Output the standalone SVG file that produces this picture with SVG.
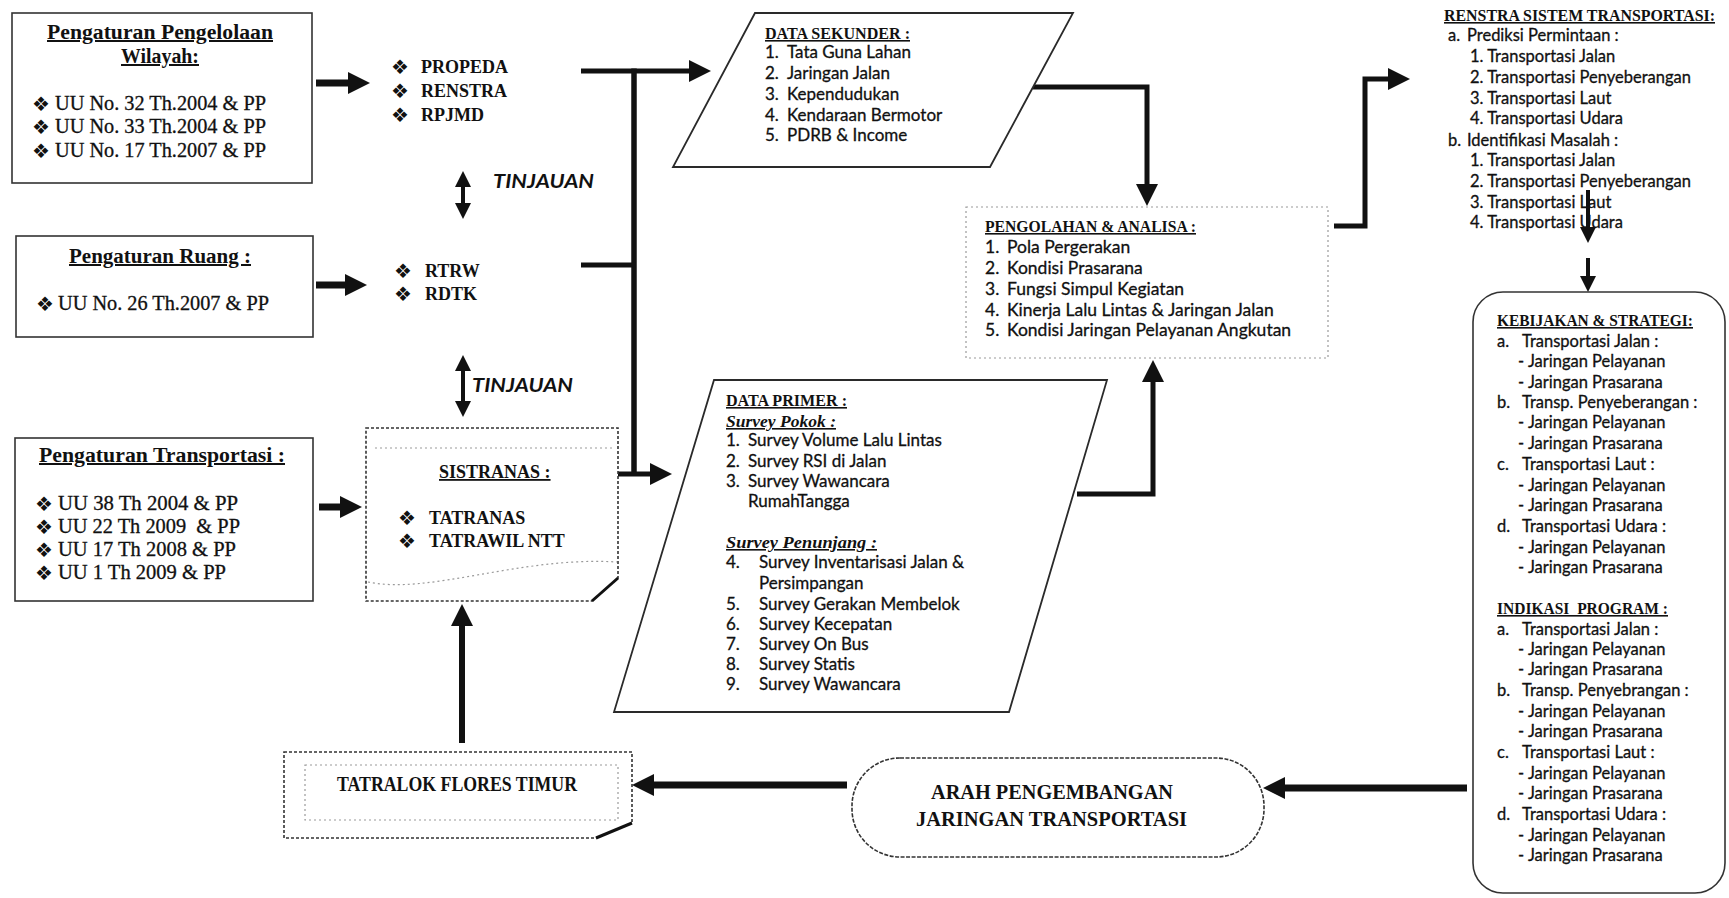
<svg xmlns="http://www.w3.org/2000/svg" width="1729" height="898" viewBox="0 0 1729 898">
<style>
.box{fill:#fff;stroke:#333;stroke-width:1.6}
.dk{fill:#fff;stroke:#2a2a2a;stroke-width:1.8}
.faint{fill:none;stroke:#9a9a9a;stroke-width:1.2;stroke-dasharray:2 3}
.hd{font-family:"Liberation Serif",serif;font-weight:bold;fill:#111}
.hi{font-family:"Liberation Serif",serif;font-weight:bold;font-style:italic;fill:#111}
.sr{font-family:"Liberation Serif",serif;fill:#111;stroke:#111;stroke-width:0.3}
.u{text-decoration:underline}
.bd{font-family:Lato,"Liberation Sans",sans-serif;fill:#111;stroke:#111;stroke-width:0.3}
.bul{font-family:"DejaVu Sans",sans-serif;font-size:20px;fill:#111}
.ti{font-family:Lato,"Liberation Sans",sans-serif;font-weight:bold;font-style:italic;font-size:19px;fill:#111}
.ln{fill:none;stroke:#111;stroke-linejoin:miter;stroke-linecap:butt}
.pre{white-space:pre}
</style>
<defs>
<marker id="ah" viewBox="0 0 22 22" refX="1" refY="11" markerWidth="22" markerHeight="22" markerUnits="userSpaceOnUse" orient="auto"><path d="M0,0 L22,11 L0,22 Z" fill="#111"/></marker>
<marker id="as" viewBox="0 0 16 16" refX="1" refY="8" markerWidth="16" markerHeight="16" markerUnits="userSpaceOnUse" orient="auto"><path d="M0,0 L16,8 L0,16 Z" fill="#111"/></marker>
<marker id="asr" viewBox="0 0 16 16" refX="15" refY="8" markerWidth="16" markerHeight="16" markerUnits="userSpaceOnUse" orient="auto"><path d="M16,0 L0,8 L16,16 Z" fill="#111"/></marker>
</defs>
<rect width="1729" height="898" fill="#fff"/>

<g id="connectors">
  <path class="ln" d="M316,83 H349" stroke-width="7" marker-end="url(#ah)"/>
  <path class="ln" d="M316,285 H346" stroke-width="7" marker-end="url(#ah)"/>
  <path class="ln" d="M319,507 H341" stroke-width="7" marker-end="url(#ah)"/>
  <path class="ln" d="M581,71 H690" stroke-width="5" marker-end="url(#ah)"/>
  <path class="ln" d="M634,68.5 V476" stroke-width="5.5"/>
  <path class="ln" d="M581,265 H636" stroke-width="5"/>
  <path class="ln" d="M577,474 H611" stroke-width="5"/>
  <path class="ln" d="M618,474 H651" stroke-width="5" marker-end="url(#ah)"/>
  <path class="ln" d="M1033,87 H1147 V185" stroke-width="5" marker-end="url(#ah)"/>
  <path class="ln" d="M1077,494 H1153 V381" stroke-width="5" marker-end="url(#ah)"/>
  <path class="ln" d="M1334,226 H1365 V79 H1389" stroke-width="5" marker-end="url(#ah)"/>
  <path class="ln" d="M1588,190 V228" stroke-width="4" marker-end="url(#as)"/>
  <path class="ln" d="M1588,258 V277" stroke-width="4" marker-end="url(#as)"/>
  <path class="ln" d="M1467,788 H1284" stroke-width="7" marker-end="url(#ah)"/>
  <path class="ln" d="M847,785 H653" stroke-width="7" marker-end="url(#ah)"/>
  <path class="ln" d="M462,743 V625" stroke-width="6" marker-end="url(#ah)"/>
  <path class="ln" d="M463,186 V204" stroke-width="4" marker-start="url(#asr)" marker-end="url(#as)"/>
  <path class="ln" d="M463,370 V402" stroke-width="4" marker-start="url(#asr)" marker-end="url(#as)"/>
  <text class="ti" x="493" y="188" textLength="101" lengthAdjust="spacingAndGlyphs">TINJAUAN</text>
  <text class="ti" x="472" y="392" textLength="101" lengthAdjust="spacingAndGlyphs">TINJAUAN</text>
</g>

<g id="pengelolaan-wilayah">
  <rect class="box" x="12" y="13" width="300" height="170"/>
  <text class="hd u" font-size="20" x="47" y="39" textLength="226" lengthAdjust="spacingAndGlyphs">Pengaturan Pengelolaan</text>
  <text class="hd u" font-size="20" x="121" y="63" textLength="78" lengthAdjust="spacingAndGlyphs">Wilayah:</text>
  <text class="bul" x="32" y="111">❖</text>
  <text class="bul" x="32" y="134">❖</text>
  <text class="bul" x="32" y="158">❖</text>
  <text class="sr" font-size="20" x="55" y="110" textLength="211" lengthAdjust="spacingAndGlyphs">UU No. 32 Th.2004 &amp; PP</text>
  <text class="sr" font-size="20" x="55" y="133" textLength="211" lengthAdjust="spacingAndGlyphs">UU No. 33 Th.2004 &amp; PP</text>
  <text class="sr" font-size="20" x="55" y="157" textLength="211" lengthAdjust="spacingAndGlyphs">UU No. 17 Th.2007 &amp; PP</text>
</g>

<g id="pengaturan-ruang">
  <rect class="box" x="16" y="236" width="297" height="101"/>
  <text class="hd u" font-size="20" x="69" y="263" textLength="182" lengthAdjust="spacingAndGlyphs">Pengaturan Ruang :</text>
  <text class="bul" x="36" y="311">❖</text>
  <text class="sr" font-size="20" x="58" y="310" textLength="211" lengthAdjust="spacingAndGlyphs">UU No. 26 Th.2007 &amp; PP</text>
</g>

<g id="pengaturan-transportasi">
  <rect class="box" x="15" y="438" width="298" height="163"/>
  <text class="hd u" font-size="20" x="39" y="462" textLength="246" lengthAdjust="spacingAndGlyphs">Pengaturan Transportasi :</text>
  <text class="bul" x="35" y="511">❖</text>
  <text class="bul" x="35" y="534">❖</text>
  <text class="bul" x="35" y="557">❖</text>
  <text class="bul" x="35" y="580">❖</text>
  <text class="sr" font-size="20" x="58" y="510" textLength="180" lengthAdjust="spacingAndGlyphs">UU 38 Th 2004 &amp; PP</text>
  <text class="sr pre" font-size="20" x="58" y="533" textLength="182" lengthAdjust="spacingAndGlyphs">UU 22 Th 2009  &amp; PP</text>
  <text class="sr" font-size="20" x="58" y="556" textLength="178" lengthAdjust="spacingAndGlyphs">UU 17 Th 2008 &amp; PP</text>
  <text class="sr" font-size="20" x="58" y="579" textLength="168" lengthAdjust="spacingAndGlyphs">UU 1 Th 2009 &amp; PP</text>
</g>

<g id="propeda">
  <text class="bul" x="391" y="74">❖</text>
  <text class="bul" x="391" y="98">❖</text>
  <text class="bul" x="391" y="122">❖</text>
  <text class="hd" font-size="18" x="421" y="73">PROPEDA</text>
  <text class="hd" font-size="18" x="421" y="97">RENSTRA</text>
  <text class="hd" font-size="18" x="421" y="121">RPJMD</text>
</g>

<g id="rtrw">
  <text class="bul" x="394" y="278">❖</text>
  <text class="bul" x="394" y="301">❖</text>
  <text class="hd" font-size="18" x="425" y="277">RTRW</text>
  <text class="hd" font-size="18" x="425" y="300">RDTK</text>
</g>

<g id="sistranas">
  <path class="box" d="M366,428 H618 V578 L592,601 H366 Z" stroke="#555" stroke-width="1.3" stroke-dasharray="3 2"/>
  <path class="faint" d="M375,448 H612"/>
  <path class="faint" d="M368,582 C430,595 520,556 617,562"/>
  <path class="ln" d="M592,601 L618,578" stroke-width="3"/>
  <text class="hd u" font-size="18" x="439" y="478">SISTRANAS :</text>
  <text class="bul" x="398" y="525">❖</text>
  <text class="bul" x="398" y="548">❖</text>
  <text class="hd" font-size="18" x="429" y="524">TATRANAS</text>
  <text class="hd" font-size="18" x="429" y="547">TATRAWIL NTT</text>
</g>

<g id="data-sekunder">
  <polygon class="dk" points="755,13 1073,13 990,167 673,167"/>
  <text class="hd u" font-size="16" x="765" y="39" textLength="145" lengthAdjust="spacingAndGlyphs">DATA SEKUNDER :</text>
  <text class="bd" font-size="17" y="58"><tspan x="765">1.</tspan><tspan x="787">Tata Guna Lahan</tspan></text>
  <text class="bd" font-size="17" y="79"><tspan x="765">2.</tspan><tspan x="787">Jaringan Jalan</tspan></text>
  <text class="bd" font-size="17" y="100"><tspan x="765">3.</tspan><tspan x="787">Kependudukan</tspan></text>
  <text class="bd" font-size="17" y="121"><tspan x="765">4.</tspan><tspan x="787">Kendaraan Bermotor</tspan></text>
  <text class="bd" font-size="17" y="141"><tspan x="765">5.</tspan><tspan x="787">PDRB &amp; Income</tspan></text>
</g>

<g id="pengolahan-analisa">
  <rect class="faint" x="966" y="207" width="362" height="151" fill="#fff"/>
  <text class="hd u" font-size="16" x="985" y="232" textLength="211" lengthAdjust="spacingAndGlyphs">PENGOLAHAN &amp; ANALISA :</text>
  <text class="bd" font-size="17.5" y="253"><tspan x="985">1.</tspan><tspan x="1007">Pola Pergerakan</tspan></text>
  <text class="bd" font-size="17.5" y="274"><tspan x="985">2.</tspan><tspan x="1007">Kondisi Prasarana</tspan></text>
  <text class="bd" font-size="17.5" y="295"><tspan x="985">3.</tspan><tspan x="1007">Fungsi Simpul Kegiatan</tspan></text>
  <text class="bd" font-size="17.5" y="316"><tspan x="985">4.</tspan><tspan x="1007">Kinerja Lalu Lintas &amp; Jaringan Jalan</tspan></text>
  <text class="bd" font-size="17.5" y="336"><tspan x="985">5.</tspan><tspan x="1007">Kondisi Jaringan Pelayanan Angkutan</tspan></text>
</g>

<g id="data-primer">
  <polygon class="dk" points="714,380 1107,380 1009,712 614,712" stroke="#444" stroke-width="1.5"/>
  <text class="hd u" font-size="16" x="726" y="406" textLength="121" lengthAdjust="spacingAndGlyphs">DATA PRIMER :</text>
  <text class="hi u" font-size="16" x="726" y="427" textLength="110" lengthAdjust="spacingAndGlyphs">Survey Pokok :</text>
  <text class="bd" font-size="17" y="446"><tspan x="726">1.</tspan><tspan x="748">Survey Volume Lalu Lintas</tspan></text>
  <text class="bd" font-size="17" y="467"><tspan x="726">2.</tspan><tspan x="748">Survey RSI di Jalan</tspan></text>
  <text class="bd" font-size="17" y="487"><tspan x="726">3.</tspan><tspan x="748">Survey Wawancara</tspan></text>
  <text class="bd" font-size="17" x="748" y="507">RumahTangga</text>
  <text class="hi u" font-size="16" x="726" y="548" textLength="151" lengthAdjust="spacingAndGlyphs">Survey Penunjang :</text>
  <text class="bd" font-size="17" y="568"><tspan x="726">4.</tspan><tspan x="759">Survey Inventarisasi Jalan &amp;</tspan></text>
  <text class="bd" font-size="17" x="759" y="589">Persimpangan</text>
  <text class="bd" font-size="17" y="610"><tspan x="726">5.</tspan><tspan x="759">Survey Gerakan Membelok</tspan></text>
  <text class="bd" font-size="17" y="630"><tspan x="726">6.</tspan><tspan x="759">Survey Kecepatan</tspan></text>
  <text class="bd" font-size="17" y="650"><tspan x="726">7.</tspan><tspan x="759">Survey On Bus</tspan></text>
  <text class="bd" font-size="17" y="670"><tspan x="726">8.</tspan><tspan x="759">Survey Statis</tspan></text>
  <text class="bd" font-size="17" y="690"><tspan x="726">9.</tspan><tspan x="759">Survey Wawancara</tspan></text>
</g>

<g id="renstra-sistem-transportasi">
  <text class="hd u" font-size="16" x="1444" y="21" textLength="271" lengthAdjust="spacingAndGlyphs">RENSTRA SISTEM TRANSPORTASI:</text>
  <text class="bd" font-size="16.5" y="41"><tspan x="1448">a.</tspan><tspan x="1467">Prediksi Permintaan  :</tspan></text>
  <text class="bd" font-size="16.5" x="1470" y="62">1. Transportasi Jalan</text>
  <text class="bd" font-size="16.5" x="1470" y="83">2. Transportasi Penyeberangan</text>
  <text class="bd" font-size="16.5" x="1470" y="104">3. Transportasi Laut</text>
  <text class="bd" font-size="16.5" x="1470" y="124">4. Transportasi Udara</text>
  <text class="bd" font-size="16.5" y="146"><tspan x="1448">b.</tspan><tspan x="1467">Identifikasi Masalah :</tspan></text>
  <text class="bd" font-size="16.5" x="1470" y="166">1. Transportasi Jalan</text>
  <text class="bd" font-size="16.5" x="1470" y="187">2. Transportasi Penyeberangan</text>
  <text class="bd" font-size="16.5" x="1470" y="208">3. Transportasi Laut</text>
  <text class="bd" font-size="16.5" x="1470" y="228">4. Transportasi Udara</text>
</g>

<g id="kebijakan-strategi">
  <rect class="box" x="1473" y="292" width="252" height="601" rx="30" stroke="#444" stroke-width="1.4"/>
  <text class="hd u" font-size="16" x="1497" y="326" textLength="196" lengthAdjust="spacingAndGlyphs">KEBIJAKAN &amp; STRATEGI:</text>
  <text class="bd" font-size="16.5" y="347"><tspan x="1497">a.</tspan><tspan x="1522">Transportasi Jalan :</tspan></text>
  <text class="bd" font-size="16.5" x="1518" y="367">- Jaringan Pelayanan</text>
  <text class="bd" font-size="16.5" x="1518" y="388">- Jaringan Prasarana</text>
  <text class="bd" font-size="16.5" y="408"><tspan x="1497">b.</tspan><tspan x="1522">Transp. Penyeberangan :</tspan></text>
  <text class="bd" font-size="16.5" x="1518" y="428">- Jaringan Pelayanan</text>
  <text class="bd" font-size="16.5" x="1518" y="449">- Jaringan Prasarana</text>
  <text class="bd" font-size="16.5" y="470"><tspan x="1497">c.</tspan><tspan x="1522">Transportasi Laut :</tspan></text>
  <text class="bd" font-size="16.5" x="1518" y="491">- Jaringan Pelayanan</text>
  <text class="bd" font-size="16.5" x="1518" y="511">- Jaringan Prasarana</text>
  <text class="bd" font-size="16.5" y="532"><tspan x="1497">d.</tspan><tspan x="1522">Transportasi Udara :</tspan></text>
  <text class="bd" font-size="16.5" x="1518" y="553">- Jaringan Pelayanan</text>
  <text class="bd" font-size="16.5" x="1518" y="573">- Jaringan Prasarana</text>
  <text class="hd u pre" font-size="16" x="1497" y="614" textLength="171" lengthAdjust="spacingAndGlyphs">INDIKASI  PROGRAM :</text>
  <text class="bd" font-size="16.5" y="635"><tspan x="1497">a.</tspan><tspan x="1522">Transportasi Jalan :</tspan></text>
  <text class="bd" font-size="16.5" x="1518" y="655">- Jaringan Pelayanan</text>
  <text class="bd" font-size="16.5" x="1518" y="675">- Jaringan Prasarana</text>
  <text class="bd" font-size="16.5" y="696"><tspan x="1497">b.</tspan><tspan x="1522">Transp. Penyebrangan :</tspan></text>
  <text class="bd" font-size="16.5" x="1518" y="717">- Jaringan Pelayanan</text>
  <text class="bd" font-size="16.5" x="1518" y="737">- Jaringan Prasarana</text>
  <text class="bd" font-size="16.5" y="758"><tspan x="1497">c.</tspan><tspan x="1522">Transportasi Laut :</tspan></text>
  <text class="bd" font-size="16.5" x="1518" y="779">- Jaringan Pelayanan</text>
  <text class="bd" font-size="16.5" x="1518" y="799">- Jaringan Prasarana</text>
  <text class="bd" font-size="16.5" y="820"><tspan x="1497">d.</tspan><tspan x="1522">Transportasi Udara :</tspan></text>
  <text class="bd" font-size="16.5" x="1518" y="841">- Jaringan Pelayanan</text>
  <text class="bd" font-size="16.5" x="1518" y="861">- Jaringan Prasarana</text>
</g>

<g id="arah-pengembangan">
  <rect class="box" x="852" y="758" width="412" height="99" rx="48" stroke="#555" stroke-width="1.5" stroke-dasharray="4 1.5"/>
  <text class="hd" font-size="21" x="931" y="799" textLength="242" lengthAdjust="spacingAndGlyphs">ARAH PENGEMBANGAN</text>
  <text class="hd" font-size="21" x="916" y="826" textLength="271" lengthAdjust="spacingAndGlyphs">JARINGAN TRANSPORTASI</text>
</g>

<g id="tatralok">
  <path class="box" d="M284,752 H632 V823 L596,838 H284 Z" stroke="#555" stroke-width="1.3" stroke-dasharray="3 2"/>
  <rect class="faint" x="305" y="765" width="313" height="55"/>
  <path class="ln" d="M596,838 L632,823" stroke-width="3"/>
  <text class="hd" font-size="21" x="337" y="791" textLength="240" lengthAdjust="spacingAndGlyphs">TATRALOK FLORES TIMUR</text>
</g>
</svg>
